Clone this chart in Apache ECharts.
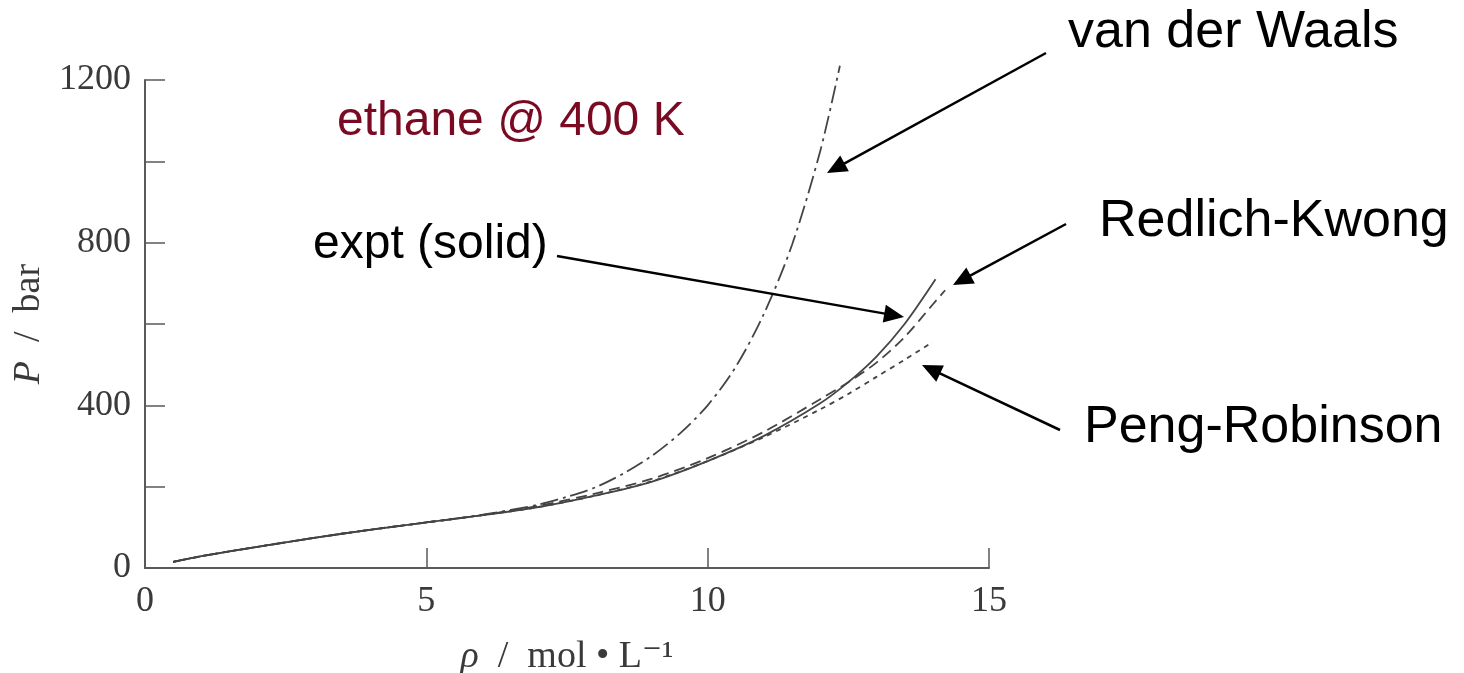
<!DOCTYPE html>
<html>
<head>
<meta charset="utf-8">
<script src="https://cdn.jsdelivr.net/npm/echarts@6/dist/echarts.min.js"></script>
<style>
html,body{margin:0;padding:0;background:#fff;}
#chart{width:1464px;height:673px;}
</style>
</head>
<body>
<div id="chart"></div>
<script>
// ---- data ----
const xTicks = [0, 5, 10, 15];
const yTickLabels = [0, 400, 800, 1200];

const rhoExpt = [0.5, 1, 2, 3, 4, 5, 6, 7, 8, 9, 10, 11, 12, 12.5, 13, 13.5, 14.05];
const pExpt   = [15, 29, 52, 74, 94, 112, 130, 150, 178, 212, 263, 325, 405, 457, 520, 600, 710];

const rhoVdw = [0.5, 1, 2, 3, 4, 5, 6, 7, 7.5, 8, 8.5, 9, 9.5, 10, 10.5, 11, 11.5, 12, 12.35];
const pVdw   = [15, 29, 52, 74, 94, 112, 131, 156, 175, 198, 232, 275, 330, 400, 495, 625, 795, 1025, 1235];

const rhoRK = [0.5, 1, 2, 3, 4, 5, 6, 7, 8, 9, 10, 11, 12, 12.5, 13, 13.5, 14, 14.22];
const pRK   = [15, 29, 52, 74, 94, 112, 130, 153, 183, 219, 270, 335, 415, 457, 505, 568, 648, 683];

const rhoPR = [0.5, 1, 2, 3, 4, 5, 6, 7, 8, 9, 10, 11, 12, 12.5, 13, 13.5, 14];
const pPR   = [15, 29, 52, 74, 94, 112, 130, 150, 178, 213, 263, 322, 390, 428, 470, 512, 556];

const zip = (xs, ys) => xs.map((x, i) => [x, ys[i]]);

const chart = echarts.init(document.getElementById('chart'));
const axisColor = '#5a5a5a';
const labelColor = '#3a3a3a';
const serif = '"Liberation Serif", "DejaVu Serif", serif';
const sans = '"Liberation Sans", Arial, sans-serif';
const curveColor = '#444';

function arrow(x1, y1, x2, y2) {
  const dx = x2 - x1, dy = y2 - y1;
  const len = Math.sqrt(dx * dx + dy * dy);
  const ux = dx / len, uy = dy / len;
  const hl = 20, hw = 9;
  const bx = x2 - ux * hl, by = y2 - uy * hl;
  const px = -uy, py = ux;
  return [
    { type: 'line', shape: { x1: x1, y1: y1, x2: bx + ux * 2, y2: by + uy * 2 },
      style: { stroke: '#000', lineWidth: 2.5 }, z: 100 },
    { type: 'polygon', shape: { points: [[x2, y2], [bx + px * hw, by + py * hw], [bx - px * hw, by - py * hw]] },
      style: { fill: '#000' }, z: 100 }
  ];
}

function label(text, x, y, size, color) {
  return { type: 'text', x: x, y: y, z: 100,
    style: { text: text, font: size + 'px ' + sans, fill: color || '#000',
             textAlign: 'left', textVerticalAlign: 'middle' } };
}

const graphics = [
  label('van der Waals', 1068, 33, 52),
  label('ethane @ 400 K', 337, 122, 48, '#7a0a21'),
  label('expt (solid)', 313, 245, 48),
  label('Redlich-Kwong', 1099, 222, 52),
  label('Peng-Robinson', 1084, 428, 52),
  ...arrow(1046, 53, 827, 173),
  ...arrow(557, 256, 904, 317),
  ...arrow(1066, 224, 953, 285),
  ...arrow(1060, 430, 922, 365)
];

const nameRich = { i: { fontFamily: serif, fontSize: 38, fontStyle: 'italic', color: labelColor } };

chart.setOption({
  backgroundColor: '#fff',
  animation: false,
  grid: { left: 145, right: 475, top: 80, bottom: 105, containLabel: false, outerBoundsMode: 'none' },
  xAxis: {
    type: 'value', min: 0, max: 15, interval: 5,
    name: '{i|ρ}  /  mol • L⁻¹',
    nameLocation: 'middle', nameGap: 70,
    nameTextStyle: { fontFamily: serif, fontSize: 38, color: labelColor, rich: nameRich },
    axisLine: { show: true, onZero: false, lineStyle: { color: axisColor, width: 2 } },
    axisTick: { show: true, inside: true, length: 20, lineStyle: { color: axisColor, width: 1.5 } },
    axisLabel: { fontFamily: serif, fontSize: 36, color: labelColor, margin: 16,
      formatter: v => xTicks.includes(v) ? String(v) : '' },
    splitLine: { show: false }
  },
  yAxis: {
    type: 'value', min: 0, max: 1200, interval: 200,
    name: '{i|P}  /  bar',
    nameLocation: 'middle', nameGap: 97, nameRotate: 90,
    nameTextStyle: { fontFamily: serif, fontSize: 38, color: labelColor, rich: nameRich },
    axisLine: { show: true, onZero: false, lineStyle: { color: axisColor, width: 2 } },
    axisTick: { show: true, inside: true, length: 20, lineStyle: { color: axisColor, width: 1.5 } },
    axisLabel: { fontFamily: serif, fontSize: 36, color: labelColor, margin: 14,
      formatter: v => yTickLabels.includes(v) ? String(v) : '' },
    splitLine: { show: false }
  },
  series: [
    { name: 'expt', type: 'line', data: zip(rhoExpt, pExpt), smooth: 0.3, showSymbol: false,
      lineStyle: { color: curveColor, width: 1.8, type: 'solid' }, clip: false, z: 5 },
    { name: 'van der Waals', type: 'line', data: zip(rhoVdw, pVdw), smooth: 0.3, showSymbol: false,
      lineStyle: { color: curveColor, width: 1.8, type: [18, 5, 3, 5] }, clip: false },
    { name: 'Redlich-Kwong', type: 'line', data: zip(rhoRK, pRK), smooth: 0.3, showSymbol: false,
      lineStyle: { color: curveColor, width: 1.8, type: [11, 6] }, clip: false },
    { name: 'Peng-Robinson', type: 'line', data: zip(rhoPR, pPR), smooth: 0.3, showSymbol: false,
      lineStyle: { color: curveColor, width: 1.8, type: [5, 5] }, clip: false }
  ],
  graphic: graphics
});
</script>
</body>
</html>
